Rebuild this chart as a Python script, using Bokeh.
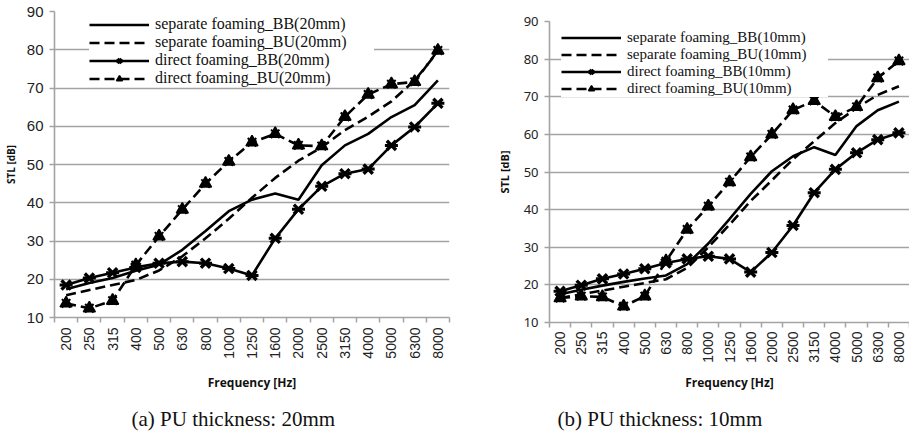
import math
from bokeh.plotting import figure
from bokeh.models import FixedTicker, Legend, LegendItem, Title, Range1d, ColumnDataSource
from bokeh.layouts import row, column
from bokeh.embed import file_html
from bokeh.resources import INLINE

freqs = ["200", "250", "315", "400", "500", "630", "800", "1000", "1250", "1600",
         "2000", "2500", "3150", "4000", "5000", "6300", "8000"]
y_ticks = [10, 20, 30, 40, 50, 60, 70, 80, 90]

# (a) PU thickness 20mm
sep_bb_20 = [17.4, 19.0, 20.3, 22.2, 23.8, 27.7, 32.6, 37.8, 40.8, 42.4, 40.8, 49.8, 55.0, 58.0, 62.4, 65.5, 72.0]
sep_bu_20 = [15.8, 17.2, 18.5, 19.8, 22.3, 26.0, 30.7, 35.8, 41.3, 46.5, 51.0, 54.5, 59.0, 62.5, 66.5, 72.0, 79.5]
dir_bb_20 = [18.5, 20.3, 21.7, 23.1, 24.2, 24.6, 24.2, 22.8, 21.0, 30.7, 38.3, 44.3, 47.6, 48.8, 55.0, 59.8, 66.0]
dir_bu_20 = [13.7, 12.4, 14.4, 23.7, 31.2, 38.2, 45.0, 50.8, 55.8, 58.0, 55.0, 54.8, 62.5, 68.3, 71.0, 71.6, 79.8]

# (b) PU thickness 10mm
sep_bb_10 = [17.5, 18.7, 19.8, 20.8, 21.7, 22.5, 25.5, 31.0, 37.5, 44.2, 50.2, 54.2, 56.6, 54.5, 62.2, 66.4, 68.7]
sep_bu_10 = [16.5, 17.5, 18.5, 19.5, 20.5, 21.5, 24.5, 30.0, 36.0, 42.3, 47.8, 53.4, 58.2, 63.0, 67.0, 70.5, 72.8]
dir_bb_10 = [18.3, 19.9, 21.6, 22.9, 24.3, 25.8, 26.9, 27.6, 26.9, 23.4, 28.6, 35.8, 44.5, 50.7, 55.1, 58.6, 60.4]
dir_bu_10 = [16.5, 17.0, 16.8, 14.3, 17.0, 26.3, 34.7, 40.9, 47.3, 54.0, 60.0, 66.5, 68.9, 64.7, 67.3, 75.0, 79.5]

GRID = "#a3a3a3"
DASH = "10 5"


def make_chart(sep_bb, sep_bu, dir_bb, dir_bu, tag, caption, cfg):
    n = len(freqs)
    idx = list(range(n))
    src = ColumnDataSource(dict(x=idx, sep_bb=sep_bb, sep_bu=sep_bu, dir_bb=dir_bb, dir_bu=dir_bu))
    p = figure(output_backend="svg", toolbar_location=None,
               frame_width=cfg["fw"], frame_height=cfg["fh"],
               x_range=Range1d(-0.5, n - 0.5), y_range=Range1d(10, 90))
    p.min_border = 0
    p.min_border_left = cfg["bl"]
    p.min_border_right = cfg["br"]
    p.min_border_top = cfg["bt"]
    p.min_border_bottom = 0
    p.outline_line_color = None
    p.background_fill_color = "white"
    p.border_fill_color = "white"
    p.xgrid.grid_line_color = None
    p.ygrid.grid_line_color = GRID
    p.ygrid.grid_line_width = 1.6

    # axes
    p.xaxis.ticker = FixedTicker(ticks=idx, minor_ticks=[i - 0.5 for i in range(n + 1)])
    p.xaxis.major_label_overrides = {i: f for i, f in zip(idx, freqs)}
    p.xaxis.major_label_orientation = math.pi / 2
    p.xaxis.major_tick_out = 0
    p.xaxis.major_tick_in = 0
    p.xaxis.minor_tick_out = 5
    p.xaxis.minor_tick_in = 0
    p.xaxis.minor_tick_line_color = GRID
    p.xaxis.minor_tick_line_width = 1.5
    p.xaxis.axis_line_color = GRID
    p.xaxis.axis_line_width = 1.6
    p.xaxis.major_label_standoff = cfg["xls"]
    p.xaxis.major_label_text_font = "Liberation Sans"
    p.xaxis.major_label_text_font_size = "14px"
    p.xaxis.major_label_text_color = "#222222"
    p.xaxis.axis_label = "Frequency [Hz]"
    p.xaxis.axis_label_text_font = "Open Sans"
    p.xaxis.axis_label_text_font_style = "bold"
    p.xaxis.axis_label_text_font_size = "12px"
    p.xaxis.axis_label_text_color = "#111111"
    p.xaxis.axis_label_standoff = cfg["xas"]

    p.yaxis.ticker = FixedTicker(ticks=y_ticks)
    p.yaxis.minor_tick_line_color = None
    p.yaxis.major_tick_out = 5
    p.yaxis.major_tick_in = 0
    p.yaxis.major_tick_line_color = GRID
    p.yaxis.major_tick_line_width = 1.5
    p.yaxis.axis_line_color = GRID
    p.yaxis.axis_line_width = 1.6
    p.yaxis.major_label_standoff = 6
    p.yaxis.major_label_text_font = cfg["yfont"]
    p.yaxis.major_label_text_font_size = cfg["yfs"]
    p.yaxis.major_label_text_color = "#222222"
    p.yaxis.axis_label = "STL [dB]"
    p.yaxis.axis_label_text_font = "Open Sans"
    p.yaxis.axis_label_text_font_style = "bold"
    p.yaxis.axis_label_text_font_size = cfg["yafs"]
    p.yaxis.axis_label_text_color = "#111111"
    p.yaxis.axis_label_standoff = cfg["yas"]

    # series
    r1 = p.line("x", "sep_bb", source=src, line_color="black", line_width=2.6)
    r2 = p.line("x", "sep_bu", source=src, line_color="black", line_width=2.6, line_dash=DASH)
    r3 = p.line("x", "dir_bb", source=src, line_color="black", line_width=2.6)
    m3 = p.scatter("x", "dir_bb", source=src, marker="x", size=13,
                   line_color="black", line_width=3.4)
    m3b = p.scatter("x", "dir_bb", source=src, marker="dash", size=13,
                    line_color="black", line_width=3)
    r4 = p.line("x", "dir_bu", source=src, line_color="black", line_width=2.6, line_dash=DASH)
    m4 = p.scatter("x", "dir_bu", source=src, marker="triangle", size=12,
                   fill_color="black", line_color="black", line_width=1.5)
    m4b = p.scatter("x", "dir_bu", source=src, marker="x", size=12,
                    line_color="black", line_width=2)

    legend = Legend(items=[
        LegendItem(label=f"separate foaming_BB({tag})", renderers=[r1]),
        LegendItem(label=f"separate foaming_BU({tag})", renderers=[r2]),
        LegendItem(label=f"direct foaming_BB({tag})", renderers=[r3, m3, m3b]),
        LegendItem(label=f"direct foaming_BU({tag})", renderers=[r4, m4]),
    ], location=cfg["lloc"])
    legend.label_text_font = "Liberation Serif"
    legend.label_text_font_size = cfg["lfs"]
    legend.label_text_color = "#111111"
    legend.glyph_width = 60
    legend.glyph_height = 15
    legend.label_height = 15
    legend.label_width = cfg["lw"]
    legend.label_standoff = 6
    legend.spacing = 0
    legend.padding = 2
    legend.margin = 0
    legend.border_line_color = None
    legend.background_fill_color = "white"
    legend.background_fill_alpha = 1.0
    p.add_layout(legend)

    cap = Title(text=caption, align="left", offset=cfg["coff"],
                text_font="Liberation Serif", text_font_size="21px",
                text_font_style="normal", text_color="#111111", standoff=cfg["cst"])
    p.add_layout(cap, "below")
    return p


cfg_a = dict(fw=395, fh=306, bl=49, br=44, bt=11, xls=5, xas=12, yas=6, yfont="Liberation Sans",
             yfs="15px", yafs="10px", lloc=(35, 230), lw=219, lfs="16px", coff=77, cst=22)
cfg_b = dict(fw=360, fh=301, bl=50, br=0, bt=21, xls=4, xas=8, yas=9, yfont="Noto Sans",
             yfs="13px", yafs="11px", lloc=(12, 225), lw=201, lfs="15px", coff=8, cst=23)

pa = make_chart(sep_bb_20, sep_bu_20, dir_bb_20, dir_bu_20, "20mm", "(a) PU thickness: 20mm", cfg_a)
pb = make_chart(sep_bb_10, sep_bu_10, dir_bb_10, dir_bu_10, "10mm", "(b) PU thickness: 10mm", cfg_b)

layout = row(column(pa), column(pb))
open("out.html", "w").write(file_html(layout, INLINE))
